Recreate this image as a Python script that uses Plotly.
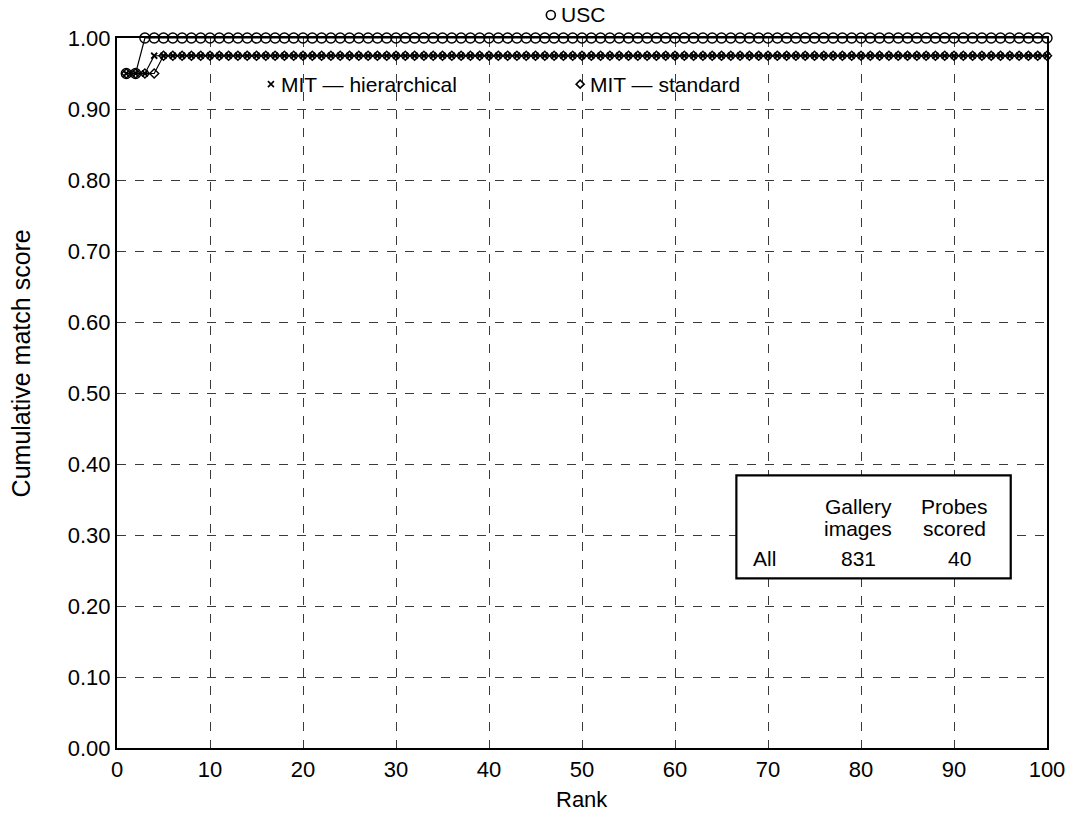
import plotly.graph_objects as go

# Cumulative match scores by rank (40 probes scored, 831 gallery images)
ranks = list(range(1, 101))
usc_scores = [0.95, 0.95] + [1.0] * 98
mit_hier_scores = [0.95, 0.95, 0.95] + [0.975] * 97
mit_std_scores = [0.95, 0.95, 0.95, 0.95] + [0.975] * 96

x_ticks = list(range(0, 101, 10))
y_ticks = [round(i * 0.1, 1) for i in range(11)]

font_family = "Liberation Sans, Arial, sans-serif"

circle_mk = dict(symbol="circle-open", size=10, color="black", line=dict(width=1.4, color="black"))
x_mk = dict(symbol="x-thin-open", size=6, color="black", line=dict(width=1.8, color="black"))
diamond_mk = dict(symbol="diamond-open", size=7, color="black", line=dict(width=1.4, color="black"))

fig = go.Figure()

for name, ys, mk in [
    ("USC", usc_scores, circle_mk),
    ("MIT — hierarchical", mit_hier_scores, x_mk),
    ("MIT — standard", mit_std_scores, diamond_mk),
]:
    fig.add_trace(go.Scatter(
        x=ranks, y=ys, mode="lines+markers", name=name,
        line=dict(color="black", width=1.2), marker=mk,
        cliponaxis=False, showlegend=False,
    ))

# Series key: small symbol drawn as pixel-sized shapes, label as annotation.
# Vertical positions are in paper units so the USC key can sit above the frame.
def key_symbol(kind, kx, ky):
    common = dict(xref="x", yref="paper", xsizemode="pixel", ysizemode="pixel",
                  xanchor=kx, yanchor=ky, line=dict(color="black", width=1.6), layer="above")
    if kind == "circle":
        fig.add_shape(type="circle", x0=-4.5, x1=4.5, y0=-4.5, y1=4.5, **common)
    elif kind == "x":
        fig.add_shape(type="line", x0=-3, x1=3, y0=-3, y1=3, **common)
        fig.add_shape(type="line", x0=-3, x1=3, y0=3, y1=-3, **common)
    else:
        fig.add_shape(type="path", path="M 0,4 L 4,0 L 0,-4 L -4,0 Z", **common)

key_items = [
    ("circle", "USC", 46.65, 1.0324),
    ("x", "MIT — hierarchical", 16.55, 0.935),
    ("diamond", "MIT — standard", 49.8, 0.935),
]
for kind, label, kx, ky in key_items:
    key_symbol(kind, kx, ky)
    fig.add_annotation(x=kx, y=ky, xref="x", yref="paper", text=label, showarrow=False,
                       xanchor="left", yanchor="middle", xshift=8,
                       font=dict(family=font_family, size=21, color="black"))

# Summary table box
fig.add_shape(type="rect", xref="x", yref="y", x0=66.6, x1=96.1, y0=0.239, y1=0.384,
              line=dict(color="black", width=2.2), fillcolor="white", layer="above")
table_cells = [
    ("Gallery", 79.7, 0.340), ("images", 79.7, 0.309),
    ("Probes", 90.1, 0.340), ("scored", 90.1, 0.309),
    ("All", 69.6, 0.267), ("831", 79.7, 0.267), ("40", 90.6, 0.267),
]
for txt, tx, ty in table_cells:
    fig.add_annotation(x=tx, y=ty, text=txt, showarrow=False, xref="x", yref="y",
                       font=dict(family=font_family, size=21, color="black"))

# Axis titles
fig.add_annotation(x=-0.103, y=0.542, xref="paper", yref="paper", text="Cumulative match score",
                   showarrow=False, textangle=-90, xanchor="center", yanchor="middle",
                   font=dict(family=font_family, size=25, color="black"))
fig.add_annotation(x=0.5, y=-0.0732, xref="paper", yref="paper", text="Rank",
                   showarrow=False, xanchor="center", yanchor="middle",
                   font=dict(family=font_family, size=22, color="black"))

fig.update_layout(
    width=1082, height=813,
    margin=dict(l=117, r=35, t=38, b=65, autoexpand=False),
    paper_bgcolor="white", plot_bgcolor="white",
    font=dict(family=font_family, size=22, color="black"),
)
fig.update_xaxes(
    range=[0, 100], tickvals=x_ticks, ticktext=[str(v) for v in x_ticks],
    showline=True, linecolor="black", linewidth=2.2, mirror=True,
    showgrid=True, gridcolor="#3a3a3a", griddash="dash", gridwidth=1,
    zeroline=False, ticks="", ticklen=0, automargin=False,
    tickfont=dict(size=22),
)
fig.update_yaxes(
    range=[0, 1], tickvals=y_ticks, ticktext=[f"{v:.2f}" for v in y_ticks],
    showline=True, linecolor="black", linewidth=2.2, mirror=True,
    showgrid=True, gridcolor="#3a3a3a", griddash="dash", gridwidth=1,
    zeroline=False, ticks="", ticklen=0, automargin=False,
    tickfont=dict(size=22),
)

fig.write_html("out.html")
